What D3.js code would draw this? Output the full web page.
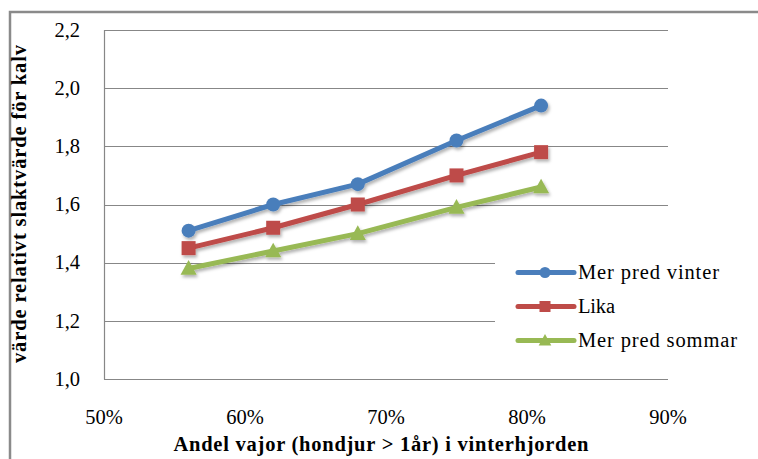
<!DOCTYPE html>
<html><head><meta charset="utf-8">
<script src="https://cdn.jsdelivr.net/npm/d3@7"></script>
<style>body{margin:0;background:#fff}svg{display:block}</style>
</head><body>
<svg id="c" width="758" height="459"></svg>
<script>
const xValues = [0.56, 0.62, 0.68, 0.75, 0.81];
const seriesNames = ["Mer pred vinter", "Lika", "Mer pred sommar"];
const seriesColors = ["#4a7ebb", "#be4b48", "#98b954"];
const seriesMarkers = ["circle", "square", "triangle"];
const blueValues = [1.51, 1.60, 1.67, 1.82, 1.94];
const redValues = [1.45, 1.52, 1.60, 1.70, 1.78];
const greenValues = [1.38, 1.44, 1.50, 1.59, 1.66];
const xTicks = [0.5, 0.6, 0.7, 0.8, 0.9];
const yTicks = [1.0, 1.2, 1.4, 1.6, 1.8, 2.0, 2.2];
const xTitle = "Andel vajor (hondjur > 1år) i vinterhjorden";
const yTitle = "värde relativt slaktvärde för kalv";

const allValues = [blueValues, redValues, greenValues];
const svg = d3.select("#c");
const FONT = "'Liberation Serif', 'Times New Roman', serif";

const defs = svg.append("defs");
const f = defs.append("filter").attr("id","sh").attr("x","-50%").attr("y","-50%").attr("width","200%").attr("height","200%");
f.append("feDropShadow").attr("dx",1.5).attr("dy",2.5).attr("stdDeviation",1.6).attr("flood-color","#000").attr("flood-opacity",0.3);

// outer frame
svg.append("path").attr("d","M10,470 L10,12 L770,12").attr("fill","none").attr("stroke","#8a8a8a").attr("stroke-width",2.5);

const x = d3.scaleLinear().domain([0.5,0.9]).range([104,668]);
const y = d3.scaleLinear().domain([1.0,2.2]).range([379,30]);

// gridlines
const legendLeft = 495, legendTop = 248, legendBottom = 362;
svg.append("g").selectAll("line").data(yTicks).join("line")
  .attr("x1", x(0.5))
  .attr("x2", d => (y(d) > legendTop && y(d) < legendBottom) ? legendLeft : x(0.9))
  .attr("y1", d => Math.round(y(d))+0.5).attr("y2", d => Math.round(y(d))+0.5)
  .attr("stroke","#878787").attr("stroke-width",1.2);
svg.append("line").attr("x1",104.5).attr("x2",104.5).attr("y1",y(2.2)).attr("y2",y(1.0)+0.5)
  .attr("stroke","#878787").attr("stroke-width",1.2);

// y tick labels
svg.append("g").selectAll("text").data(yTicks).join("text")
  .attr("x", 80).attr("y", d => y(d)).attr("dy","0.33em")
  .attr("text-anchor","end").attr("font-family",FONT).attr("font-size",20.5).attr("fill","#000")
  .text(d => d3.format(".1f")(d).replace(".", ","));
// x tick labels
svg.append("g").selectAll("text").data(xTicks).join("text")
  .attr("x", d => x(d)).attr("y", 424)
  .attr("text-anchor","middle").attr("font-family",FONT).attr("font-size",20.5).attr("fill","#000")
  .text(d => d3.format(".0%")(d));

// axis titles
svg.append("text").attr("x", 381).attr("y", 451).attr("text-anchor","middle")
  .attr("font-family",FONT).attr("font-weight","bold").attr("font-size",20.5).attr("fill","#000")
  .attr("textLength",415).attr("lengthAdjust","spacing").text(xTitle);
svg.append("text").attr("transform","translate(26,204) rotate(-90)").attr("text-anchor","middle")
  .attr("font-family",FONT).attr("font-weight","bold").attr("font-size",20.5).attr("fill","#000")
  .attr("textLength",318).attr("lengthAdjust","spacing").text(yTitle);

function marker(g, type, cx, cy, s, color){
  if (type==="circle") g.append("circle").attr("cx",cx).attr("cy",cy).attr("r",s).attr("fill",color);
  else if (type==="square") g.append("rect").attr("x",cx-s).attr("y",cy-s).attr("width",2*s).attr("height",2*s).attr("fill",color);
  else g.append("path").attr("d",`M${cx},${cy-s*1.2}L${cx+s*1.15},${cy+s*0.9}L${cx-s*1.15},${cy+s*0.9}Z`).attr("fill",color);
}

const line = d3.line().x((d,i)=>x(xValues[i])).y(d=>y(d));
allValues.forEach((vals, si) => {
  const g = svg.append("g").attr("filter","url(#sh)");
  g.append("path").datum(vals).attr("d", line).attr("fill","none")
    .attr("stroke", seriesColors[si]).attr("stroke-width",5).attr("stroke-linejoin","round").attr("stroke-linecap","round");
  vals.forEach((v,i) => marker(g, seriesMarkers[si], x(xValues[i]), y(v), 7, seriesColors[si]));
});

// legend
const legY = [272.5, 306.5, 340.5];
const legW = [141, 37, 159];
seriesNames.forEach((name, si) => {
  const g = svg.append("g");
  g.append("line").attr("x1",518).attr("x2",574).attr("y1",legY[si]).attr("y2",legY[si])
    .attr("stroke",seriesColors[si]).attr("stroke-width",5).attr("stroke-linecap","round");
  marker(g, seriesMarkers[si], 545, legY[si], 5.5, seriesColors[si]);
  g.append("text").attr("x",578).attr("y",legY[si]).attr("dy","0.33em")
    .attr("font-family",FONT).attr("font-size",20.5).attr("fill","#000")
    .attr("textLength",legW[si]).attr("lengthAdjust","spacing").text(name);
});
</script>
</body></html>
